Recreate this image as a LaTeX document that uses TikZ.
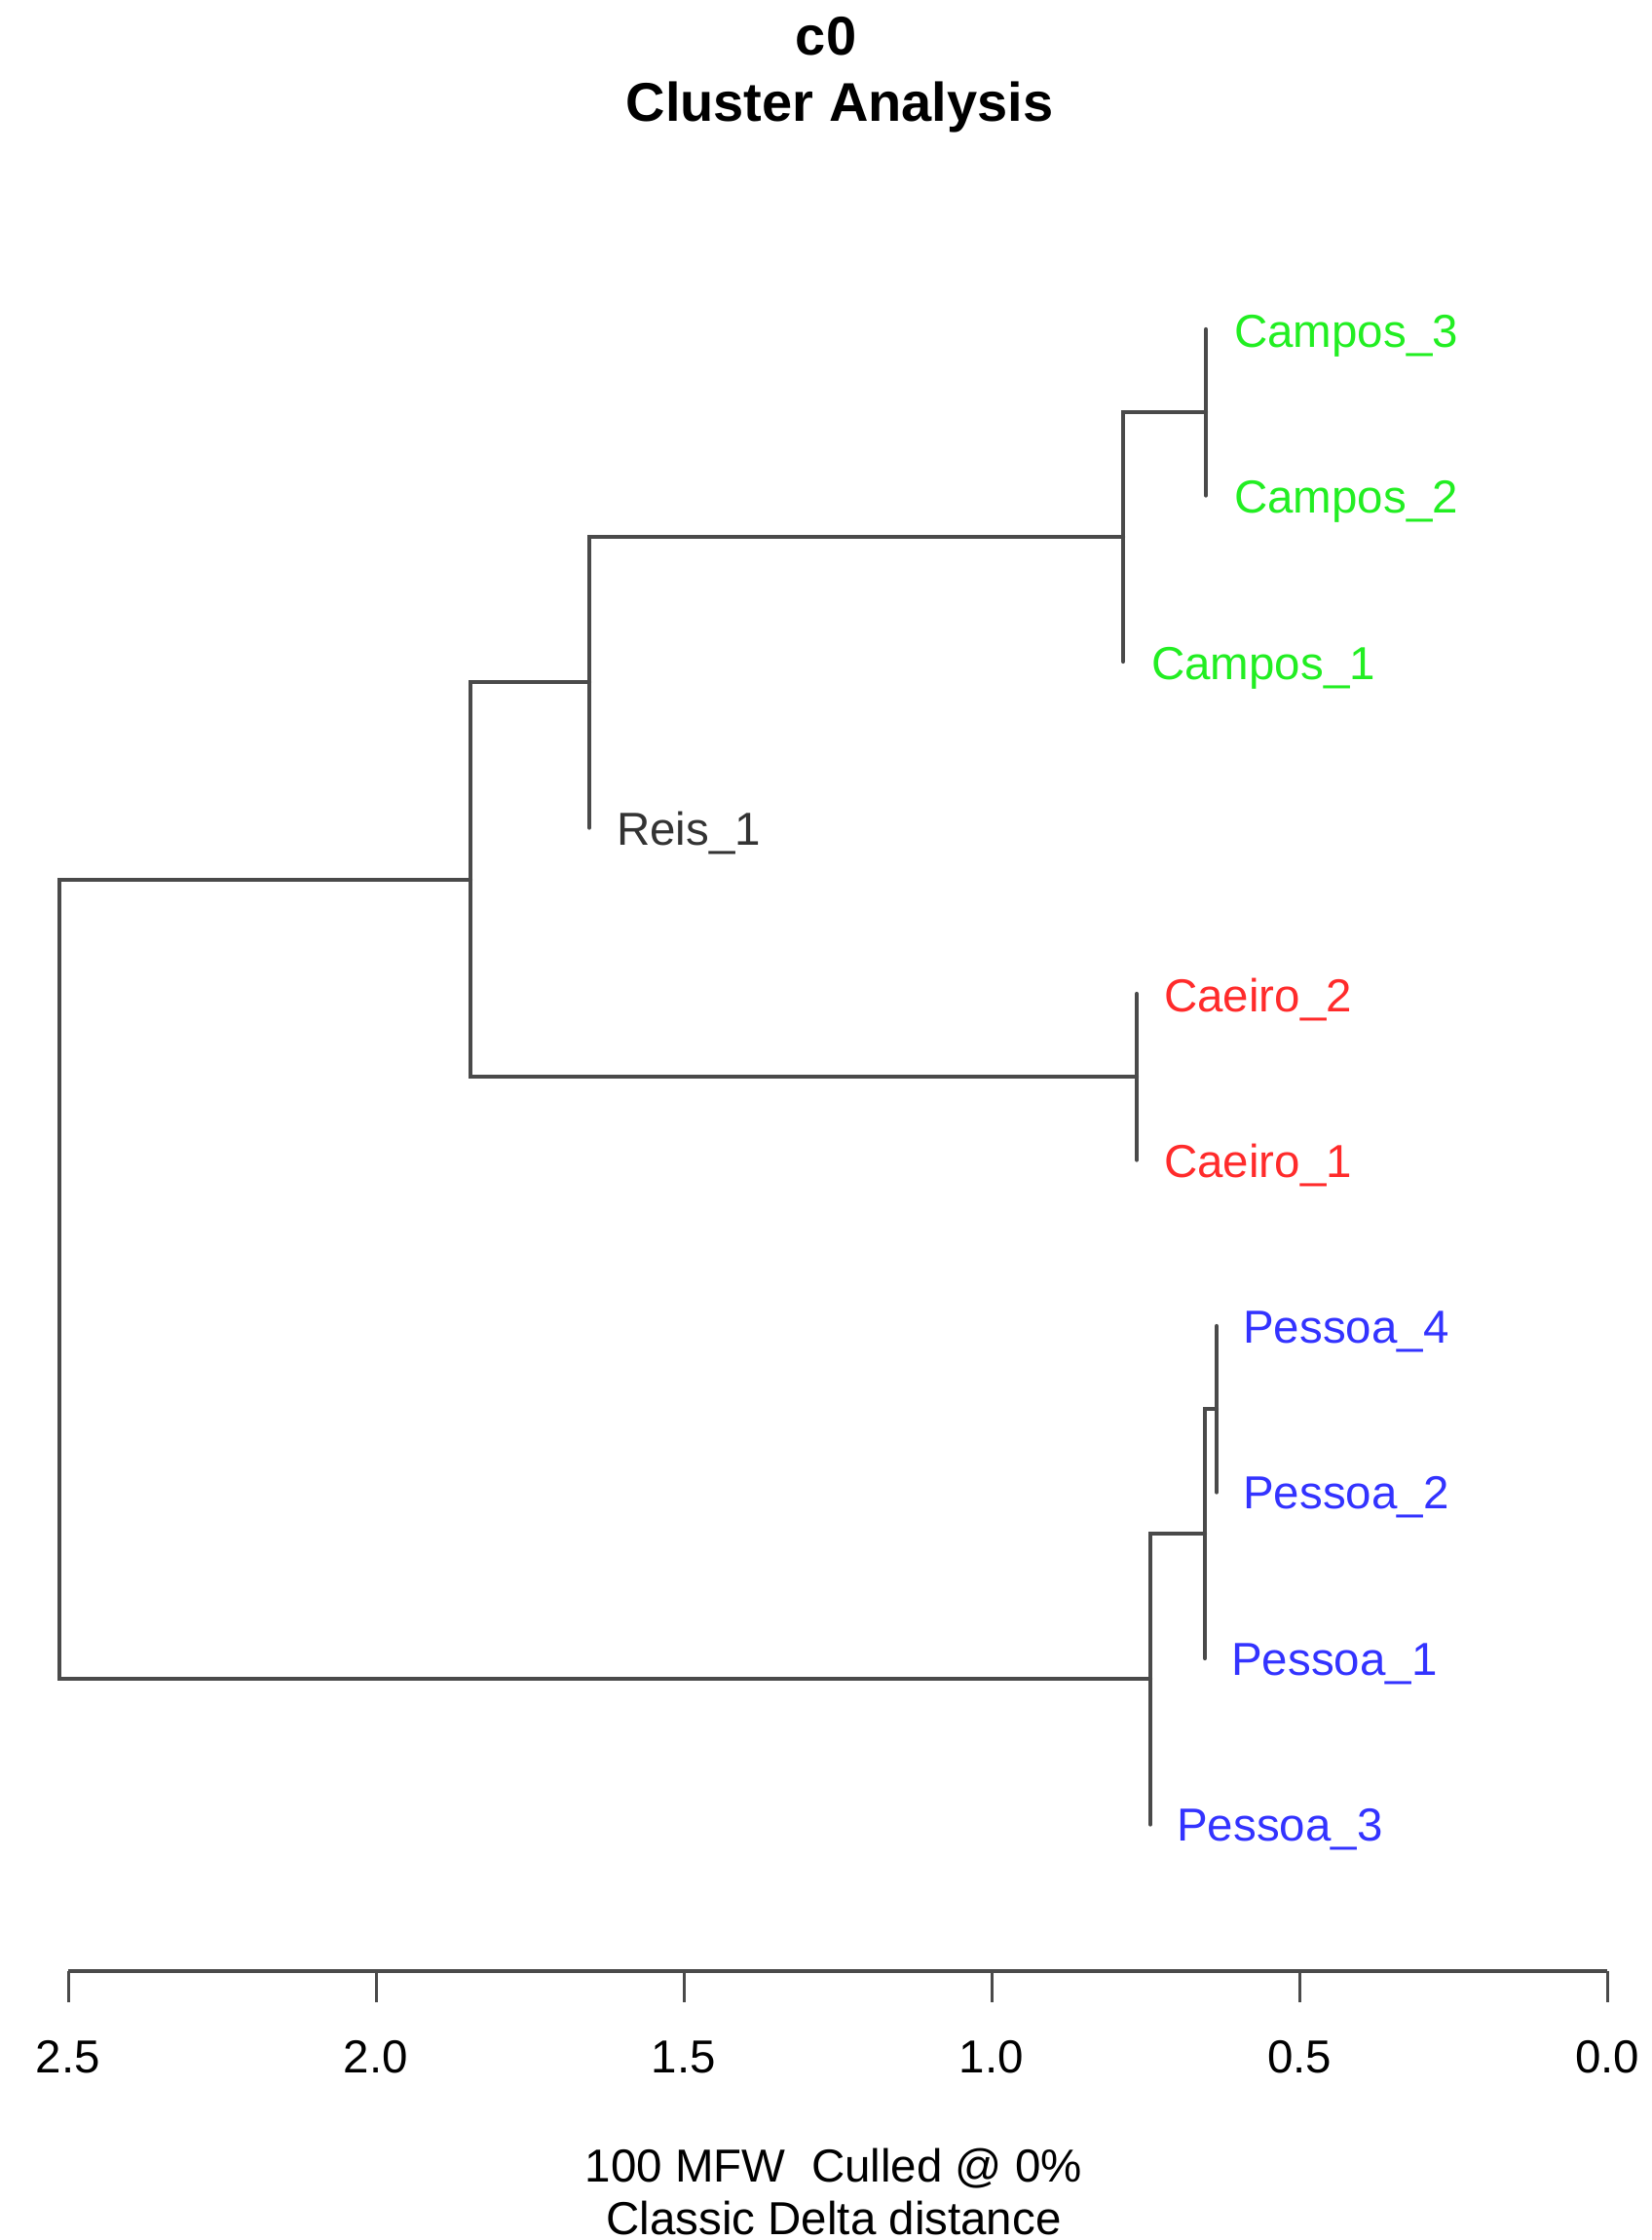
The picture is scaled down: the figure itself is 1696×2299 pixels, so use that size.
\documentclass[tikz,border=0pt]{standalone}
\usepackage{fontspec}
\setmainfont{Liberation Sans}
\definecolor{cgreen}{HTML}{22EE22}
\definecolor{cred}{HTML}{FF2B2B}
\definecolor{cblue}{HTML}{3333FF}
\definecolor{lineg}{HTML}{4A4A4A}
\newcommand{\labfont}{\fontsize{47.5}{56}\selectfont}
\newcommand{\titfont}{\bfseries\fontsize{56}{67}\selectfont}
\tikzset{
  edge/.style={line width=4.3pt, draw=lineg, line cap=round},
  leaflab/.style={anchor=base west, inner sep=0pt, font=\labfont},
  ticklab/.style={anchor=base, inner sep=0pt, font=\labfont},
  titlab/.style={anchor=base, inner sep=0pt, font=\titfont}
}
\begin{document}
\begin{tikzpicture}[x=1pt,y=-1pt]
\useasboundingbox[fill=white] (0,0) rectangle (1696,2299);
% title
\node[titlab] (t1) at (848,57) {c0};
\node[titlab] (t2) at (862,124) {Cluster Analysis};
% leaves
\coordinate (C3) at (1238,338);
\coordinate (C2) at (1238,508.5);
\coordinate (C1) at (1153,679);
\coordinate (R1) at (605,849.5);
\coordinate (Ca2) at (1167,1020);
\coordinate (Ca1) at (1167,1190.5);
\coordinate (P4) at (1249,1361);
\coordinate (P2) at (1249,1531.5);
\coordinate (P1) at (1237,1702);
\coordinate (P3) at (1181,1872.5);
% merges
\coordinate (mC32) at (1238,423.25);
\coordinate (mC) at (1153,551.1);
\coordinate (mCR) at (605,700.3);
\coordinate (mCa) at (1167,1105.25);
\coordinate (mU) at (483,902.8);
\coordinate (mP42) at (1249,1446.25);
\coordinate (mP421) at (1237,1574.1);
\coordinate (mP) at (1181,1723.3);
\coordinate (root) at (61,1313);
% edges
\draw[edge] (C3) -- (C2);
\draw[edge] (mC32) -| (mC) |- (C1);
\draw[edge] (mC) -| (mCR) |- (R1);
\draw[edge] (Ca2) -- (Ca1);
\draw[edge] (mCR) -| (mU) |- (mCa);
\draw[edge] (P4) -- (P2);
\draw[edge] (mP42) -| (mP421) |- (P1);
\draw[edge] (mP421) -| (mP) |- (P3);
\draw[edge] (mU) -| (root) |- (mP);
% labels
\node[leaflab, text=cgreen] (lC3) at ([shift={(29,18)}]C3) {Campos\_3};
\node[leaflab, text=cgreen] (lC2) at ([shift={(29,18)}]C2) {Campos\_2};
\node[leaflab, text=cgreen] (lC1) at ([shift={(29,18)}]C1) {Campos\_1};
\node[leaflab, text=black!80] (lR1) at ([shift={(28,18)}]R1) {Reis\_1};
\node[leaflab, text=cred] (lCa2) at ([shift={(28,18)}]Ca2) {Caeiro\_2};
\node[leaflab, text=cred] (lCa1) at ([shift={(28,18)}]Ca1) {Caeiro\_1};
\node[leaflab, text=cblue] (lP4) at ([shift={(27,17)}]P4) {Pessoa\_4};
\node[leaflab, text=cblue] (lP2) at ([shift={(27,17)}]P2) {Pessoa\_2};
\node[leaflab, text=cblue] (lP1) at ([shift={(27,17)}]P1) {Pessoa\_1};
\node[leaflab, text=cblue] (lP3) at ([shift={(27,17)}]P3) {Pessoa\_3};
% axis
\coordinate (a0) at (70,2023);
\coordinate (a1) at (386,2023);
\coordinate (a2) at (702,2023);
\coordinate (a3) at (1018,2023);
\coordinate (a4) at (1334,2023);
\coordinate (a5) at (1650,2023);
\draw[edge, line cap=butt] (a0) -- (a5);
\foreach \c/\v in {a0/2.5,a1/2.0,a2/1.5,a3/1.0,a4/0.5,a5/0.0}{
  \draw[edge, line width=3pt, line cap=butt] (\c) -- ++(0,32);
  \node[ticklab] (lab\c) at ([yshift=-104pt]\c) {\v};
}
\node[ticklab] (x1) at (856,2239) {100 MFW\ \ Culled @ 0\%};
\node[ticklab] (x2) at (856,2293) {Classic Delta distance};
\end{tikzpicture}
\end{document}
